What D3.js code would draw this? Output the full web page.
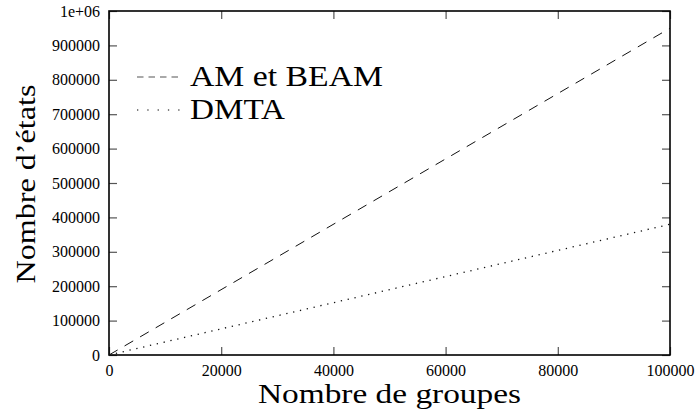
<!DOCTYPE html>
<html>
<head>
<meta charset="utf-8">
<script src="https://cdn.jsdelivr.net/npm/d3@7"></script>
<style>
  html, body { margin: 0; padding: 0; background: #fff; }
  svg { display: block; }
</style>
</head>
<body>
<script>
// Nombre d'états en fonction du nombre de groupes
const groupes = [0, 100000];
const etatsAmBeam = [0, 950000];
const etatsDmta = [0, 380000];
const seriesNames = ["AM et BEAM", "DMTA"];
const xTicks = [0, 20000, 40000, 60000, 80000, 100000];
const yTicks = [0, 100000, 200000, 300000, 400000, 500000, 600000, 700000, 800000, 900000, 1000000];
const yTickLabels = ["0", "100000", "200000", "300000", "400000", "500000", "600000", "700000", "800000", "900000", "1e+06"];

const FONT = "'Liberation Serif', 'Times New Roman', serif";
const W = 696, H = 416;
const margin = { top: 11, right: 26, bottom: 61, left: 109 };
const iw = W - margin.left - margin.right;
const ih = H - margin.top - margin.bottom;

const svg = d3.select("body").append("svg").attr("width", W).attr("height", H);
const g = svg.append("g").attr("transform", `translate(${margin.left},${margin.top})`);

const x = d3.scaleLinear().domain([0, 100000]).range([0, iw]);
const y = d3.scaleLinear().domain([0, 1000000]).range([ih, 0]);

const tickLen = 8;
const tickStyle = sel => {
  sel.attr("font-family", null);
  sel.select(".domain").remove();
  sel.selectAll(".tick line").attr("stroke", "#555").attr("stroke-width", 1.2);
  sel.selectAll("text").style("font-family", FONT).style("font-size", "16px").attr("fill", "#000");
};

// left axis with labels, ticks pointing inward
const yAxis = g.append("g")
  .call(d3.axisLeft(y).tickValues(yTicks).tickSize(-tickLen).tickPadding(9)
    .tickFormat((d, i) => yTickLabels[i]));
tickStyle(yAxis);

// right mirror ticks
const yAxisR = g.append("g").attr("transform", `translate(${iw},0)`)
  .call(d3.axisRight(y).tickValues(yTicks).tickSize(-tickLen).tickFormat(""));
tickStyle(yAxisR);

// bottom axis
const xAxis = g.append("g").attr("transform", `translate(0,${ih})`)
  .call(d3.axisBottom(x).tickValues(xTicks).tickSize(-tickLen).tickPadding(10)
    .tickFormat(d3.format("d")));
tickStyle(xAxis);

// top mirror ticks
const xAxisT = g.append("g")
  .call(d3.axisTop(x).tickValues(xTicks).tickSize(-tickLen).tickFormat(""));
tickStyle(xAxisT);

// frame
g.append("rect").attr("x", 0).attr("y", 0).attr("width", iw).attr("height", ih)
  .attr("fill", "none").attr("stroke", "#000").attr("stroke-width", 1.6);

// curves
const line = d3.line().x(d => x(d[0])).y(d => y(d[1]));
g.append("path").datum(groupes.map((v, i) => [v, etatsAmBeam[i]]))
  .attr("d", line).attr("fill", "none").attr("stroke", "#111")
  .attr("stroke-width", 1).attr("stroke-dasharray", "10,8");
g.append("path").datum(groupes.map((v, i) => [v, etatsDmta[i]]))
  .attr("d", line).attr("fill", "none").attr("stroke", "#111")
  .attr("stroke-width", 1.3).attr("stroke-dasharray", "1.3,5.7");

// legend
const legend = g.append("g").attr("transform", "translate(28,0)");
const legendRows = [
  { name: seriesNames[0], dash: "6.5,5", w: 1.2, len: 193 },
  { name: seriesNames[1], dash: "1.3,9", w: 1.3, len: 95 }
];
legendRows.forEach((r, i) => {
  const cy = 66 + i * 33;
  legend.append("line").attr("x1", 0).attr("x2", 44).attr("y1", cy).attr("y2", cy)
    .attr("stroke", "#555").attr("stroke-width", r.w).attr("stroke-dasharray", r.dash);
  legend.append("text").attr("x", 53).attr("y", cy + 9)
    .style("font-family", FONT).style("font-size", "30px")
    .attr("textLength", r.len).attr("lengthAdjust", "spacingAndGlyphs")
    .text(r.name);
});

// axis titles
svg.append("text")
  .attr("x", margin.left + iw / 2).attr("y", 403)
  .attr("text-anchor", "middle")
  .style("font-family", FONT).style("font-size", "28px")
  .attr("textLength", 263).attr("lengthAdjust", "spacingAndGlyphs")
  .text("Nombre de groupes");

svg.append("text")
  .attr("transform", `translate(35,${margin.top + ih / 2 + 1}) rotate(-90)`)
  .attr("text-anchor", "middle")
  .style("font-family", FONT).style("font-size", "28px")
  .attr("textLength", 199).attr("lengthAdjust", "spacingAndGlyphs")
  .text("Nombre d’états");
</script>
</body>
</html>
